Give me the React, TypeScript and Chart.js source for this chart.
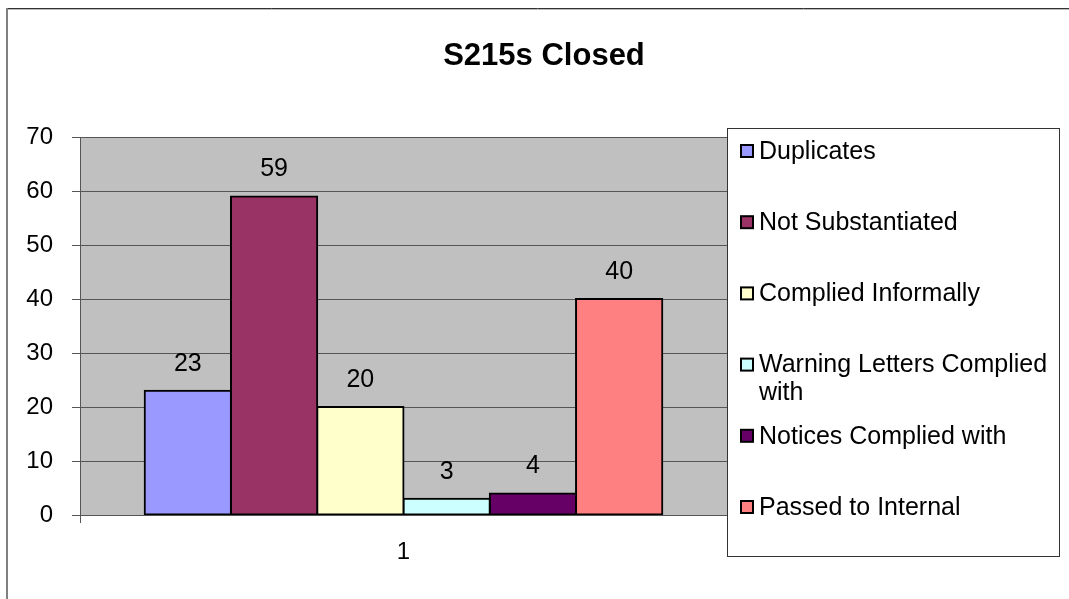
import React, { useEffect, useRef } from 'react';
import { Chart, registerables } from 'chart.js';

Chart.register(...registerables);

const chartTitle = 'S215s Closed';
const categories = ['1'];
const seriesNames = [
  'Duplicates',
  'Not Substantiated',
  'Complied Informally',
  'Warning Letters Complied with',
  'Notices Complied with',
  'Passed to Internal',
];
const seriesValues = [23, 59, 20, 3, 4, 40];
const seriesColors = ['#9999FF', '#993366', '#FFFFCC', '#CCFFFF', '#660066', '#FF8080'];
const yMin = 0;
const yMax = 70;
const yStep = 10;

const FONT = '"Liberation Sans", Arial, sans-serif';

const decoPlugin = {
  id: 'deco',
  beforeDraw(chart: any) {
    const ctx = chart.ctx;
    const a = chart.chartArea;
    ctx.save();
    ctx.fillStyle = '#ffffff';
    ctx.fillRect(0, 0, chart.width, chart.height);
    // outer frame
    ctx.strokeStyle = '#333333';
    ctx.lineWidth = 1;
    ctx.beginPath();
    ctx.moveTo(6, 8.5);
    ctx.lineTo(chart.width, 8.5);
    ctx.stroke();
    ctx.strokeStyle = '#bbbbbb';
    ctx.beginPath();
    ctx.moveTo(8, 9.5);
    ctx.lineTo(chart.width, 9.5);
    ctx.stroke();
    ctx.strokeStyle = '#808080';
    ctx.lineWidth = 2;
    ctx.beginPath();
    ctx.moveTo(7, 8);
    ctx.lineTo(7, chart.height);
    ctx.stroke();
    // plot area background
    ctx.fillStyle = '#C0C0C0';
    ctx.fillRect(a.left, a.top, a.right - a.left, a.bottom - a.top);
    ctx.restore();
  },
  afterDatasetsDraw(chart: any) {
    const ctx = chart.ctx;
    ctx.save();
    ctx.font = `25px ${FONT}`;
    ctx.fillStyle = '#000';
    ctx.textAlign = 'center';
    ctx.textBaseline = 'middle';
    chart.data.datasets.forEach((ds: any, i: number) => {
      const meta = chart.getDatasetMeta(i);
      meta.data.forEach((bar: any, j: number) => {
        ctx.fillText(String(ds.data[j]), bar.x, bar.y - 27);
      });
    });
    ctx.restore();
  },
  afterDraw(chart: any) {
    const ctx = chart.ctx;
    ctx.save();
    // title
    ctx.font = `bold 31px ${FONT}`;
    ctx.fillStyle = '#000';
    ctx.textAlign = 'center';
    ctx.textBaseline = 'middle';
    ctx.fillText(chartTitle, 544, 56);

    // legend box
    const lx = 727, ly = 128, lw = 332, lh = 428;
    ctx.fillStyle = '#ffffff';
    ctx.fillRect(lx, ly, lw, lh);
    ctx.strokeStyle = '#333333';
    ctx.lineWidth = 1;
    ctx.strokeRect(lx + 0.5, ly + 0.5, lw, lh);

    ctx.font = `25px ${FONT}`;
    ctx.textAlign = 'left';
    ctx.textBaseline = 'middle';
    const maxW = 296;
    chart.data.datasets.forEach((ds: any, i: number) => {
      const cy = ly + 23 + i * 71.2;
      ctx.fillStyle = ds.backgroundColor;
      ctx.fillRect(741, cy - 6, 12, 12);
      ctx.strokeStyle = '#000';
      ctx.lineWidth = 2;
      ctx.strokeRect(741, cy - 6, 12, 12);
      // wrap
      const words = String(ds.label).split(' ');
      const lines: string[] = [];
      let cur = '';
      words.forEach((w) => {
        const t = cur ? cur + ' ' + w : w;
        if (ctx.measureText(t).width > maxW && cur) {
          lines.push(cur);
          cur = w;
        } else cur = t;
      });
      if (cur) lines.push(cur);
      ctx.fillStyle = '#000';
      lines.forEach((ln, k) => ctx.fillText(ln, 759, cy + 1 + k * 28));
    });
    ctx.restore();
  },
};

export default function App() {
  const ref = useRef<HTMLCanvasElement | null>(null);
  useEffect(() => {
    if (!ref.current) return;
    const chart = new Chart(ref.current, {
      type: 'bar',
      data: {
        labels: categories,
        datasets: seriesNames.map((n, i) => ({
          label: n,
          data: [seriesValues[i]],
          backgroundColor: seriesColors[i],
          borderColor: '#000000',
          borderWidth: 2,
          borderSkipped: false,
          inflateAmount: 1,
          categoryPercentage: 0.8,
          barPercentage: 1,
        })),
      },
      options: {
        responsive: false,
        animation: false,
        devicePixelRatio: 1,
        layout: { padding: { left: 0, top: 137, right: 342, bottom: 24 } },
        plugins: {
          legend: { display: false },
          title: { display: false },
          tooltip: { enabled: false },
        },
        scales: {
          x: {
            grid: { color: '#555555', tickLength: 8, offset: true, drawOnChartArea: true },
            border: { color: '#555555', width: 1 },
            ticks: { color: '#000', font: { family: FONT, size: 24 }, padding: 15 },
            afterFit(s: any) { s.height = 60; },
          },
          y: {
            min: yMin,
            max: yMax,
            grid: { color: '#555555', tickLength: 8 },
            border: { color: '#555555', width: 1 },
            ticks: { stepSize: yStep, color: '#000', font: { family: FONT, size: 24 }, padding: 19 },
            afterFit(s: any) { s.width = 80; },
          },
        },
      },
      plugins: [decoPlugin],
    } as any);
    return () => chart.destroy();
  }, []);
  return (
    <div style={{ position: 'absolute', left: 0, top: 0, width: 1069, height: 599 }}>
      <canvas ref={ref} width={1069} height={599} style={{ width: 1069, height: 599, display: 'block' }} />
    </div>
  );
}
